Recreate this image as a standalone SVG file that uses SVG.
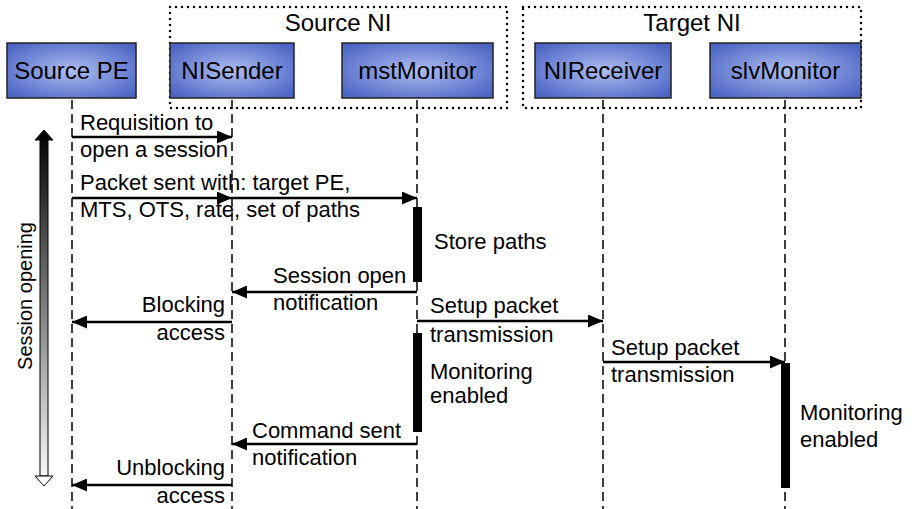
<svg xmlns="http://www.w3.org/2000/svg" width="918" height="509" viewBox="0 0 918 509">
<defs>
<radialGradient id="boxg" cx="50%" cy="50%" r="65%">
<stop offset="0" stop-color="#aebdf0"/>
<stop offset="1" stop-color="#4a63c4"/>
</radialGradient>
<linearGradient id="arrg" gradientUnits="userSpaceOnUse" x1="0" y1="130" x2="0" y2="487">
<stop offset="0" stop-color="#000"/>
<stop offset="1" stop-color="#fff"/>
</linearGradient>
<marker id="ah" markerUnits="userSpaceOnUse" markerWidth="15" markerHeight="13" refX="15" refY="6.5" orient="auto">
<path d="M0,0 L15,6.5 L0,13 z" fill="#000"/>
</marker>
<style>
text{font-family:"Liberation Sans",Arial,sans-serif;fill:#000}
.box{fill:url(#boxg);stroke:#222;stroke-width:1.5}
.bl{font-size:24px;text-anchor:middle}
.lbl{font-size:22px}
.r{text-anchor:end}
.grp{fill:none;stroke:#000;stroke-width:2.5;stroke-dasharray:0 6;stroke-linecap:round}
.life{stroke:#000;stroke-width:1.5;stroke-dasharray:9 5;fill:none}
.msg{stroke:#000;stroke-width:2.5;fill:none;marker-end:url(#ah)}
.act{fill:#000}
</style>
</defs>
<g id="groups">
<g id="source-ni"><rect class="grp" x="170" y="7" width="337" height="101"/><text class="bl" x="338" y="31" font-size="22">Source NI</text></g>
<g id="target-ni"><rect class="grp" x="523" y="7" width="338" height="101"/><text class="bl" x="692" y="31" font-size="22">Target NI</text></g>
</g>
<g id="lifelines">
<path class="life" d="M72,98V509 M232,98V509 M417,98V509 M603,98V509 M785,98V509" stroke-dashoffset="-2"/>
</g>
<g id="node-sourcepe"><rect class="box" x="7" y="43" width="129" height="55"/><text class="bl" x="71.5" y="79">Source PE</text></g>
<g id="node-nisender"><rect class="box" x="170" y="43" width="124" height="55"/><text class="bl" x="232" y="79">NISender</text></g>
<g id="node-mstmonitor"><rect class="box" x="342" y="43" width="151" height="55"/><text class="bl" x="417.5" y="79">mstMonitor</text></g>
<g id="node-nireceiver"><rect class="box" x="535" y="43" width="136" height="55"/><text class="bl" x="603" y="79">NIReceiver</text></g>
<g id="node-slvmonitor"><rect class="box" x="710" y="43" width="151" height="55"/><text class="bl" x="785.5" y="79">slvMonitor</text></g>
<g id="activations">
<rect class="act" x="413" y="207" width="9" height="75"/>
<rect class="act" x="413" y="333" width="9" height="99"/>
<rect class="act" x="781" y="363" width="9" height="125"/>
</g>
<g id="connectors">
<line class="msg" x1="72" y1="137" x2="232" y2="137"/>
<line class="msg" x1="72" y1="198" x2="232" y2="198"/>
<line class="msg" x1="232" y1="198" x2="417" y2="198"/>
<line class="msg" x1="417" y1="292" x2="232" y2="292"/>
<line class="msg" x1="232" y1="322" x2="72" y2="322"/>
<line class="msg" x1="417" y1="321" x2="603" y2="321"/>
<line class="msg" x1="603" y1="362" x2="785" y2="362"/>
<line class="msg" x1="417" y1="444" x2="232" y2="444"/>
<line class="msg" x1="232" y1="485" x2="72" y2="485"/>
</g>
<g id="labels">
<text class="lbl" x="80" y="130">Requisition to</text>
<text class="lbl" x="80" y="157">open a session</text>
<text class="lbl" x="80" y="190">Packet sent with: target PE,</text>
<text class="lbl" x="80" y="217">MTS, OTS, rate, set of paths</text>
<text class="lbl" x="434" y="249">Store paths</text>
<text class="lbl" x="273" y="283">Session open</text>
<text class="lbl" x="273" y="310">notification</text>
<text class="lbl r" x="225" y="312">Blocking</text>
<text class="lbl r" x="225" y="340">access</text>
<text class="lbl" x="430" y="313">Setup packet</text>
<text class="lbl" x="430" y="342">transmission</text>
<text class="lbl" x="430" y="379">Monitoring</text>
<text class="lbl" x="430" y="403">enabled</text>
<text class="lbl" x="611" y="355">Setup packet</text>
<text class="lbl" x="611" y="382">transmission</text>
<text class="lbl" x="800" y="420">Monitoring</text>
<text class="lbl" x="800" y="447">enabled</text>
<text class="lbl" x="252" y="438">Command sent</text>
<text class="lbl" x="252" y="465">notification</text>
<text class="lbl r" x="225" y="475">Unblocking</text>
<text class="lbl r" x="225" y="503">access</text>
</g>
<g id="session-opening">
<rect x="40" y="139" width="8" height="337" fill="url(#arrg)" stroke="#000" stroke-width="1"/>
<path d="M35,140 L44,130 L53,140 Z" fill="#000" stroke="#000" stroke-width="1"/>
<path d="M35,476 L44,486 L53,476 Z" fill="#fff" stroke="#000" stroke-width="1"/>
<text transform="translate(32,296) rotate(-90)" text-anchor="middle" font-size="20">Session opening</text>
</g>
</svg>
